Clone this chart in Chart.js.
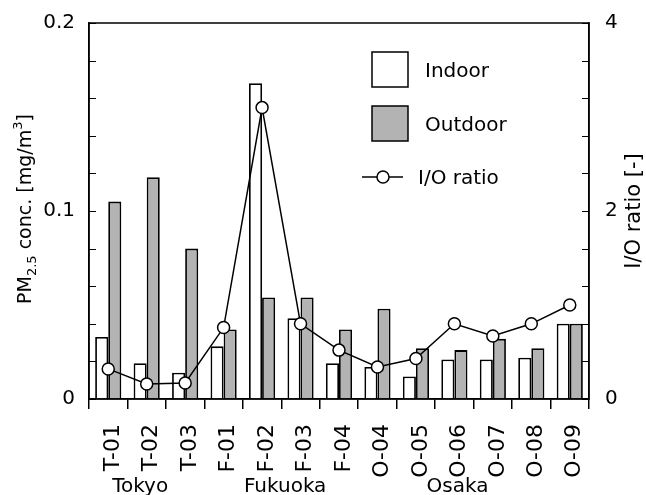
<!DOCTYPE html>
<html>
<head>
<meta charset="utf-8">
<script src="https://cdn.jsdelivr.net/npm/chart.js@4.4.0/dist/chart.umd.min.js"></script>
<style>
  html, body { margin: 0; padding: 0; background: #fff; }
</style>
</head>
<body>
<canvas id="pmChart" width="646" height="495"></canvas>
<script>
// site codes and measured values
const sites = ["T-01", "T-02", "T-03", "F-01", "F-02", "F-03", "F-04",
               "O-04", "O-05", "O-06", "O-07", "O-08", "O-09"];
const indoor = [0.033, 0.019, 0.014, 0.028, 0.168, 0.043, 0.019,
                0.017, 0.012, 0.021, 0.021, 0.022, 0.040];
const outdoor = [0.105, 0.118, 0.080, 0.037, 0.054, 0.054, 0.037,
                 0.048, 0.027, 0.026, 0.032, 0.027, 0.040];
const ioRatio = [0.32, 0.16, 0.17, 0.76, 3.10, 0.80, 0.52,
                 0.34, 0.43, 0.80, 0.67, 0.80, 1.00];
const regions = ["Tokyo", "Fukuoka", "Osaka"];

const FONT = '"DejaVu Sans", sans-serif';
Chart.defaults.font.family = FONT;
Chart.defaults.font.size = 20;
Chart.defaults.color = "#000";

// pin axis sizes so the plot box lands where the original has it
function pin(w, h) {
  return (s) => {
    if (w) s.width = w;
    if (h) s.height = h;
    s.paddingTop = 0;
    s.paddingBottom = 0;
    s.paddingLeft = 0;
    s.paddingRight = 0;
  };
}

// frame, inward ticks, axis titles, region names and legend
const extras = {
  id: "extras",
  afterDraw(chart) {
    const ctx = chart.ctx;
    const a = chart.chartArea;
    ctx.save();
    ctx.strokeStyle = "#000";
    ctx.lineWidth = 1.5;
    ctx.strokeRect(a.left, a.top, a.right - a.left, a.bottom - a.top);

    // inward tick marks on both value axes
    ctx.lineWidth = 1.2;
    ctx.beginPath();
    chart.scales.y.ticks.forEach(t => {
      const py = Math.round(chart.scales.y.getPixelForValue(t.value)) + 0.5;
      ctx.moveTo(a.left, py);
      ctx.lineTo(a.left + 7, py);
    });
    chart.scales.y2.ticks.forEach(t => {
      const py = Math.round(chart.scales.y2.getPixelForValue(t.value)) + 0.5;
      ctx.moveTo(a.right, py);
      ctx.lineTo(a.right - 7, py);
    });
    ctx.stroke();

    ctx.fillStyle = "#000";
    ctx.textBaseline = "alphabetic";

    // left title with sub/superscript
    const parts = [
      ["PM", 19, 0], ["2.5", 13, 5], [" conc. [mg/m", 19, 0], ["3", 13, -9], ["]", 19, 0]
    ];
    let total = 0;
    parts.forEach(p => { ctx.font = p[1] + "px " + FONT; total += ctx.measureText(p[0]).width; });
    ctx.save();
    ctx.translate(31, 209);
    ctx.rotate(-Math.PI / 2);
    let px = -total / 2;
    ctx.textAlign = "left";
    parts.forEach(p => {
      ctx.font = p[1] + "px " + FONT;
      ctx.fillText(p[0], px, p[2]);
      px += ctx.measureText(p[0]).width;
    });
    ctx.restore();

    // right title
    ctx.save();
    ctx.font = "21px " + FONT;
    ctx.translate(640, 211);
    ctx.rotate(-Math.PI / 2);
    ctx.textAlign = "center";
    ctx.fillText("I/O ratio [-]", 0, 0);
    ctx.restore();

    // region names under the site labels
    const anchors = [0.83, 4.6, 9.08];
    ctx.font = "20px " + FONT;
    ctx.textAlign = "center";
    regions.forEach((r, i) => {
      ctx.fillText(r, chart.scales.x.getPixelForValue(anchors[i]), 492);
    });

    // legend
    const ds = chart.data.datasets;
    const lx = a.left + 283;
    ctx.textAlign = "left";
    [ds[1], ds[2]].forEach((d, i) => {
      const by = a.top + 29 + i * 54;
      ctx.fillStyle = d.backgroundColor;
      ctx.fillRect(lx, by, 36, 35);
      ctx.strokeStyle = d.borderColor;
      ctx.lineWidth = 1.5;
      ctx.strokeRect(lx, by, 36, 35);
      ctx.fillStyle = "#000";
      ctx.fillText(d.label, a.left + 336, by + 25);
    });
    const ly = a.top + 154;
    ctx.strokeStyle = "#000";
    ctx.lineWidth = 1.5;
    ctx.beginPath();
    ctx.moveTo(lx - 10, ly);
    ctx.lineTo(lx + 31, ly);
    ctx.stroke();
    ctx.beginPath();
    ctx.arc(lx + 11, ly, 6, 0, Math.PI * 2);
    ctx.fillStyle = "#fff";
    ctx.fill();
    ctx.stroke();
    ctx.fillStyle = "#000";
    ctx.fillText(ds[0].label, a.left + 329, ly + 7);
    ctx.restore();
  }
};

new Chart(document.getElementById("pmChart"), {
  type: "bar",
  data: {
    labels: sites,
    datasets: [
      {
        type: "line",
        label: "I/O ratio",
        data: ioRatio,
        yAxisID: "y2",
        borderColor: "#000",
        borderWidth: 1.5,
        pointRadius: 6,
        pointBackgroundColor: "#fff",
        pointBorderColor: "#000",
        pointBorderWidth: 1.5,
        tension: 0,
        order: 0,
      },
      {
        label: "Indoor",
        data: indoor,
        yAxisID: "y",
        backgroundColor: "#fff",
        borderColor: "#000",
        borderWidth: 1.8,
        order: 1,
      },
      {
        label: "Outdoor",
        data: outdoor,
        yAxisID: "y",
        backgroundColor: "#b3b3b3",
        borderColor: "#000",
        borderWidth: 1.8,
        order: 1,
      },
    ],
  },
  options: {
    responsive: false,
    animation: false,
    layout: { padding: { top: 23, left: 0, right: 0, bottom: 0 } },
    datasets: { bar: { categoryPercentage: 0.68, barPercentage: 1.0 } },
    plugins: { legend: { display: false }, tooltip: { enabled: false } },
    scales: {
      x: {
        grid: { offset: true, drawOnChartArea: false, tickLength: 10, color: "#000", lineWidth: 1.5 },
        border: { color: "#000", width: 1.5 },
        ticks: { minRotation: 90, maxRotation: 90, autoSkip: false, padding: 15, labelOffset: 5, font: { size: 22 } },
        afterFit: pin(0, 96),
      },
      y: {
        position: "left",
        min: 0,
        max: 0.2,
        grid: { drawOnChartArea: false, drawTicks: false },
        border: { color: "#000", width: 1.5 },
        ticks: {
          stepSize: 0.02,
          padding: 14,
          callback: (v) => {
            const k = Math.round(v * 100);
            return k % 10 === 0 ? (k === 0 ? "0" : (k / 100).toString()) : "";
          },
        },
        afterFit: pin(89, 0),
      },
      y2: {
        position: "right",
        min: 0,
        max: 4,
        grid: { drawOnChartArea: false, drawTicks: false },
        border: { color: "#000", width: 1.5 },
        ticks: {
          stepSize: 0.2,
          padding: 16,
          callback: (v) => (Math.abs(v - Math.round(v)) < 1e-6 ? String(Math.round(v)) : ""),
        },
        afterFit: pin(57, 0),
      },
    },
  },
  plugins: [extras],
});
</script>
</body>
</html>
